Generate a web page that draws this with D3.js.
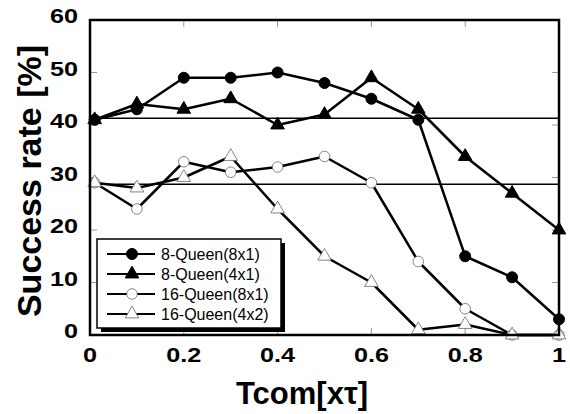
<!DOCTYPE html>
<html><head><meta charset="utf-8">
<script src="https://cdn.jsdelivr.net/npm/d3@7"></script>
<style>body{margin:0;background:#fff}</style>
</head><body>
<svg id="c" width="570" height="414"></svg>
<script>
const xVals = [0.01, 0.1, 0.2, 0.3, 0.4, 0.5, 0.6, 0.7, 0.8, 0.9, 1.0];
const q8_8x1 = [41, 43, 49, 49, 50, 48, 45, 41, 15, 11, 3];
const q8_4x1 = [41, 44, 43, 45, 40, 42, 49, 43, 34, 27, 20];
const q16_8x1 = [29, 24, 33, 31, 32, 34, 29, 14, 5, 0, 0];
const q16_4x2 = [29, 28, 30, 34, 24, 15, 10, 1, 2, 0, 0];
const refLines = [41.3, 28.7];
const xTicks = [0, 0.2, 0.4, 0.6, 0.8, 1];
const yTicks = [0, 10, 20, 30, 40, 50, 60];
const seriesNames = ["8-Queen(8x1)", "8-Queen(4x1)", "16-Queen(8x1)", "16-Queen(4x2)"];

const series = [
  {name: seriesNames[0], vals: q8_8x1, sym: d3.symbolCircle, size: 95, filled: true},
  {name: seriesNames[1], vals: q8_4x1, sym: d3.symbolTriangle, size: 80, filled: true},
  {name: seriesNames[2], vals: q16_8x1, sym: d3.symbolCircle, size: 88, filled: false},
  {name: seriesNames[3], vals: q16_4x2, sym: d3.symbolTriangle, size: 80, filled: false}
];

const svg = d3.select("#c");
const L = 90, R = 559, T = 20, B = 335;
const x = d3.scaleLinear().domain([0, 1]).range([L, R]);
const y = d3.scaleLinear().domain([0, 60]).range([B, T]);

// ticks (inward, grey)
const tk = svg.append("g").attr("stroke", "#999").attr("stroke-width", 1);
xTicks.forEach(t => {
  tk.append("line").attr("x1", x(t)).attr("x2", x(t)).attr("y1", B).attr("y2", B - 7);
  tk.append("line").attr("x1", x(t)).attr("x2", x(t)).attr("y1", T).attr("y2", T + 7);
});
yTicks.forEach(t => {
  tk.append("line").attr("x1", L).attr("x2", L + 7).attr("y1", y(t)).attr("y2", y(t));
  tk.append("line").attr("x1", R).attr("x2", R - 7).attr("y1", y(t)).attr("y2", y(t));
});

// reference lines
refLines.forEach(v => {
  svg.append("line").attr("x1", L).attr("x2", R).attr("y1", y(v)).attr("y2", y(v))
    .attr("stroke", "#000").attr("stroke-width", 1.5);
});

// series lines
const line = d3.line().x((d, i) => x(xVals[i])).y(d => y(d));
series.forEach(s => {
  svg.append("path").datum(s.vals).attr("d", line)
    .attr("fill", "none").attr("stroke", "#000").attr("stroke-width", 2.5).attr("stroke-linejoin", "round");
});
// markers (hollow first, filled on top)
[2, 3, 0, 1].forEach(k => {
  const s = series[k];
  const sym = d3.symbol().type(s.sym).size(s.size);
  svg.append("g").selectAll("path").data(s.vals).join("path")
    .attr("d", sym)
    .attr("transform", (d, i) => `translate(${x(xVals[i])},${y(d)})`)
    .attr("fill", s.filled ? "#000" : "#fff")
    .attr("stroke", s.filled ? "#000" : "#666")
    .attr("stroke-width", s.filled ? 1 : 0.8);
});

// frame
svg.append("rect").attr("x", L).attr("y", T).attr("width", R - L).attr("height", B - T)
  .attr("fill", "none").attr("stroke", "#000").attr("stroke-width", 2.5);

// tick labels (Helvetica-like bold, slightly widened)
const af = "'Liberation Sans', Arial, sans-serif";
xTicks.forEach(t => {
  svg.append("text").attr("transform", `translate(${x(t)},362) scale(1.2,1)`).attr("text-anchor", "middle")
    .attr("font-family", af).attr("font-weight", "bold").attr("font-size", 21)
    .text(t === 0 ? "0" : t === 1 ? "1" : d3.format(".1f")(t));
});
yTicks.forEach(t => {
  svg.append("text").attr("transform", `translate(78,${y(t) + 3}) scale(1.2,1)`).attr("text-anchor", "end")
    .attr("font-family", af).attr("font-weight", "bold").attr("font-size", 21)
    .text(t);
});

// axis titles
svg.append("text").attr("transform", "translate(41,181) rotate(-90)").attr("text-anchor", "middle")
  .attr("font-family", af).attr("font-weight", "bold").attr("font-size", 34)
  .text("Success rate [%]");
svg.append("text").attr("x", 302).attr("y", 404).attr("text-anchor", "middle")
  .attr("font-family", af).attr("font-weight", "bold").attr("font-size", 31)
  .text("Tcom[xτ]");

// legend
const lg = svg.append("g");
lg.append("rect").attr("x", 101).attr("y", 243).attr("width", 184).attr("height", 89).attr("fill", "#000");
lg.append("rect").attr("x", 97).attr("y", 239).attr("width", 184).attr("height", 89)
  .attr("fill", "#fff").attr("stroke", "#000").attr("stroke-width", 1.5);
series.forEach((s, i) => {
  const yy = 254 + i * 20;
  lg.append("line").attr("x1", 107).attr("x2", 155).attr("y1", yy).attr("y2", yy)
    .attr("stroke", "#000").attr("stroke-width", 2);
  lg.append("path").attr("d", d3.symbol().type(s.sym).size(s.size)())
    .attr("transform", `translate(132,${yy})`)
    .attr("fill", s.filled ? "#000" : "#fff")
    .attr("stroke", s.filled ? "#000" : "#666").attr("stroke-width", s.filled ? 1 : 0.8);
  lg.append("text").attr("x", 161).attr("y", yy + 5.5)
    .attr("font-family", af).attr("font-size", 16).text(s.name);
});
</script>
</body></html>
